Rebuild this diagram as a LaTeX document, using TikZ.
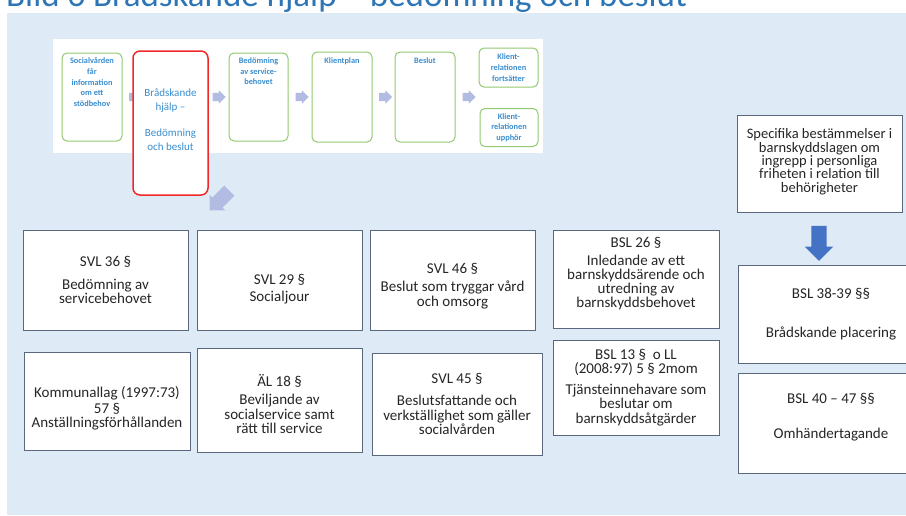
\documentclass[tikz,border=0pt]{standalone}
\usepackage{fontspec}
\setmainfont{Carlito}
\usetikzlibrary{positioning,shapes.arrows}
\definecolor{slBlue}{RGB}{46,117,182}
\definecolor{slPanel}{RGB}{222,235,247}
\definecolor{slText}{RGB}{58,142,208}
\definecolor{slGreen}{RGB}{146,200,112}
\definecolor{slRed}{RGB}{240,40,40}
\definecolor{slFrame}{RGB}{90,104,125}
\definecolor{slLav}{RGB}{178,188,226}
\definecolor{slArrow}{RGB}{68,114,196}

\tikzset{
  lawbox/.style={draw=slFrame, fill=white, line width=0.8pt, align=center, inner sep=0pt,
    text=black!85, font=\fontsize{15}{14.5}\selectfont},
  stepbox/.style={draw=slGreen, fill=white, line width=1pt, rounded corners=5pt, inner sep=0pt},
  steptext/.style={align=center, text=slText, inner sep=0pt, font=\fontsize{8.3}{10.7}\selectfont\bfseries},
  flowarrow/.style={single arrow, fill=slLav, inner xsep=0pt, inner ysep=4pt,
    single arrow head extend=2.5pt, minimum height=13pt},
}

\begin{document}
\begin{tikzpicture}[x=1pt, y=-1pt]
  \useasboundingbox (0,0) rectangle (906,515);
  \clip (0,0) rectangle (906,515);
  \fill[slPanel] (7,13) rectangle (906,515);
  % title, cut by the top edge
  \node[anchor=base west, inner sep=0pt, text=slBlue, font=\fontsize{35}{35}\selectfont] (title) at (6,6)
    {Bild 6 Brådskande hjälp – bedömning och beslut};

  % process strip
  \fill[white] (53,39) rectangle (543,153);
  \node[flowarrow] (f1) at (133.5,97) {};
  \node[flowarrow] (f2) at (217,97) {};
  \node[flowarrow] (f3) at (300,97) {};
  \node[flowarrow] (f4) at (383.5,97) {};
  \node[flowarrow] (f5) at (467,97) {};
  \node[stepbox, minimum width=60pt, minimum height=88pt] (s1) at (92,97) {};
  \node[steptext, below=5pt of s1.north] (t1) {Socialvården\\får\\information\\om ett\\stödbehov};
  \node[stepbox, draw=slRed, line width=1.5pt, rounded corners=7pt, minimum width=75pt, minimum height=144pt,
    align=center, text=slText, font=\fontsize{11}{14.5}\selectfont] (s2) at (170.5,123)
    {Brådskande\\hjälp –\\[11pt]Bedömning\\och beslut\\[-7.5pt]};
  \node[stepbox, minimum width=59pt, minimum height=88pt] (s3) at (258.5,97) {};
  \node[steptext, below=5pt of s3.north] (t3) {Bedömning\\av service-\\behovet};
  \node[stepbox, minimum width=60pt, minimum height=90pt] (s4) at (342,97) {};
  \node[steptext, below=6pt of s4.north] (t4) {Klientplan};
  \node[stepbox, minimum width=60pt, minimum height=90pt] (s5) at (425,97) {};
  \node[steptext, below=6pt of s5.north] (t5) {Beslut};
  \node[stepbox, steptext, minimum width=59pt, minimum height=39pt] (s6) at (508.5,67.5) {Klient-\\relationen\\fortsätter};
  \node[stepbox, steptext, minimum width=58pt, minimum height=38pt] (s7) at (509,127.5) {Klient-\\relationen\\upphör};
  \node[single arrow, fill=slLav, rotate=-135, inner xsep=0pt, inner ysep=7pt,
    single arrow head extend=4pt, minimum height=28pt] (fa) at (222,198) {};

  % paragraphs, first row
  \node[lawbox, minimum width=165pt, minimum height=100pt] (svl36) at (105.5,280)
    {SVL 36 §\\[8pt]Bedömning av\\servicebehovet};
  \node[lawbox, minimum width=165pt, minimum height=100pt] (svl29) at (279.5,280)
    {\mbox{}\\[14pt]SVL 29 §\\[2pt]Socialjour};
  \node[lawbox, minimum width=165pt, minimum height=100pt] (svl46) at (452.5,280)
    {\mbox{}\\[8pt]SVL 46 §\\[4pt]Beslut som tryggar vård\\och omsorg};
  \node[lawbox, minimum width=166pt, minimum height=98pt, font=\fontsize{15}{14}\selectfont] (bsl26) at (636,279)
    {BSL 26 §\\[4pt]Inledande av ett\\barnskyddsärende och\\utredning av\\barnskyddsbehovet\\[-1pt]};

  % paragraphs, second row
  \node[lawbox, minimum width=166pt, minimum height=98pt] (kl57) at (107,401)
    {\mbox{}\\[12pt]Kommunallag (1997:73)\\[1pt]57 §\\Anställningsförhållanden};
  \node[lawbox, minimum width=165pt, minimum height=104pt] (al18) at (279.5,400)
    {\mbox{}\\[6pt]ÄL 18 §\\[4pt]Beviljande av\\socialservice samt\\rätt till service};
  \node[lawbox, minimum width=170pt, minimum height=102pt] (svl45) at (457,404)
    {SVL 45 §\\[8pt]Beslutsfattande och\\verkställighet som gäller\\socialvården};
  \node[lawbox, minimum width=166pt, minimum height=95pt] (bsl13) at (636,387.5)
    {BSL 13 §~~o LL\\(2008:97) 5 § 2mom\\[6pt]Tjänsteinnehavare som\\beslutar om\\barnskyddsåtgärder};

  % child protection column
  \node[lawbox, minimum width=165pt, minimum height=97pt, font=\fontsize{14.5}{13.4}\selectfont] (spec) at (819.5,163.5)
    {Specifika bestämmelser i\\barnskyddslagen om\\ingrepp i personliga\\friheten i relation till\\behörigheter\\[-7.4pt]};
  \node[single arrow, fill=slArrow, rotate=-90, inner xsep=0pt, inner ysep=7.5pt,
    single arrow head extend=6.5pt, minimum height=35pt] (down) at (819,239.5) {};
  \node[lawbox, minimum width=186pt, minimum height=98pt] (bsl38) at (831,314)
    {BSL 38-39 §§\\[25pt]Brådskande placering};
  \node[lawbox, minimum width=186pt, minimum height=100pt] (bsl40) at (831,423)
    {BSL 40 – 47 §§\\[21pt]Omhändertagande\\[0pt]};
\end{tikzpicture}
\end{document}
